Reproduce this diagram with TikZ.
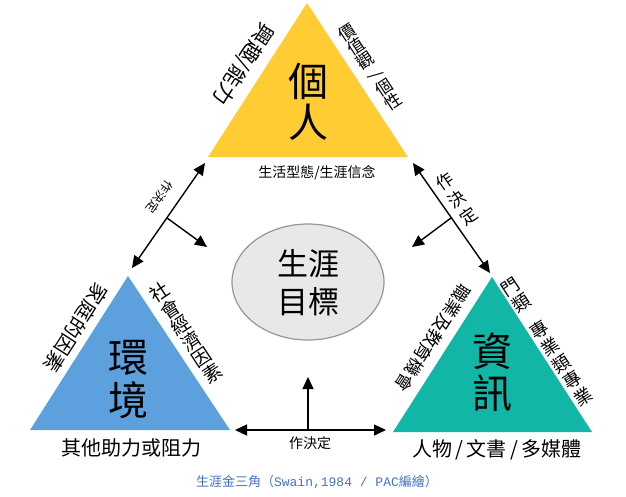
\documentclass[tikz,border=0pt]{standalone}
\usepackage{fontspec}
\usepackage{graphicx}
\setmainfont{Noto Sans CJK TC}
\newfontfamily\monofnt{Liberation Mono}
\usetikzlibrary{arrows.meta,shapes.geometric}
\definecolor{triyellow}{RGB}{255,204,51}
\definecolor{triblue}{RGB}{93,160,222}
\definecolor{triteal}{RGB}{17,182,166}
\definecolor{capblue}{RGB}{68,114,196}
\definecolor{ellfill}{RGB}{232,232,232}
\definecolor{ellline}{RGB}{150,150,150}
\newcommand{\fsz}[2]{\fontsize{#1}{#2}\selectfont\lineskiplimit=-100pt\lineskip=0pt}
\tikzset{
  lbl/.style={inner sep=0pt, outer sep=0pt, align=center, text=black},
  bigch/.style={lbl, font=\fsz{40}{42}},
  conn/.style={line width=1.4pt, draw=black},
  tipA/.style={-{Triangle[length=12pt,width=11pt]}},
  tipB/.style={{Triangle[length=12pt,width=11pt]}-{Triangle[length=12pt,width=11pt]}}
}
\begin{document}
\begin{tikzpicture}[x=1pt,y=-1pt]
\useasboundingbox (0,0) rectangle (626,496);
% triangles
\coordinate (tA) at (307,3);   \coordinate (tB) at (208,157); \coordinate (tC) at (408,157);
\coordinate (bA) at (128,276); \coordinate (bB) at (30,430);  \coordinate (bC) at (230,430);
\coordinate (gA) at (492,277); \coordinate (gB) at (393,432); \coordinate (gC) at (592,432);
\fill[triyellow] (tA) -- (tB) -- (tC) -- cycle;
\fill[triblue] (bA) -- (bB) -- (bC) -- cycle;
\fill[triteal] (gA) -- (gB) -- (gC) -- cycle;
% big characters
\node[bigch] (ge) at (308,81) {個};
\node[bigch] (ren) at (308,122) {人};
\node[bigch] (huan) at (128,358) {環};
\node[bigch] (jing) at (128,400) {境};
\node[bigch] (zi) at (492,351) {資};
\node[bigch] (xun) at (492,393) {訊};
% ellipse
\node[ellipse, fill=ellfill, draw=ellline, line width=1.2pt, minimum width=152pt, minimum height=116pt, inner sep=0pt] (goal) at (308,282) {};
\node[lbl, font=\fsz{31}{38}] (goaltxt) at (308,283) {生涯\\目標};
% bottom texts
\node[lbl, font=\fsz{14}{16}] (life) at (317,173) {生活型態/生涯信念};
\node[lbl, font=\fsz{20}{22}] (other) at (131,448) {其他助力或阻力};
\node[lbl, font=\fsz{20}{22}] (media) at (497,450) {人物\,/\,文書\,/\,多媒體};
% edge texts: left edges (horizontal, rotated)
\node[lbl, font=\fsz{21}{22}, rotate=237.3] (interest) at (243,64) {興趣/能力};
\node[lbl, font=\fsz{20}{22}, rotate=237.3] (family) at (76,328) {家庭的因素};
\node[lbl, font=\fsz{17.5}{19}, rotate=237.3] (jobs) at (433,338) {職業及教育機會};
% edge texts: right edges (vertical, rotated)
\node[lbl, font=\fsz{17}{16.6}, rotate=33.3] (values) at (370,67) {價\\值\\觀\\\rotatebox[origin=c]{-90}{/}\\個\\性};
\node[lbl, font=\fsz{19}{19.3}, rotate=33.3] (social) at (186,333) {社\\會\\經\\濟\\因\\素};
\node[lbl, font=\fsz{18}{20}, rotate=33.3] (cats) at (547,342) {門\\類\\[12pt]專\\業\\類\\專\\業};
% arrows
\coordinate (l1) at (205,163); \coordinate (l2) at (132,268);
\coordinate (l3) at (167,218); \coordinate (l4) at (207,247);
\coordinate (r1) at (413,163); \coordinate (r2) at (490,273);
\coordinate (r3) at (451,218); \coordinate (r4) at (412,247);
\coordinate (d1) at (235,430); \coordinate (d2) at (386,430);
\coordinate (d3) at (308,430); \coordinate (d4) at (308,377);
\draw[conn, tipB] (l1) -- (l2);
\draw[conn, tipA] (l3) -- (l4);
\draw[conn, tipB] (r1) -- (r2);
\draw[conn, tipA] (r3) -- (r4);
\draw[conn, tipB] (d1) -- (d2);
\draw[conn, tipA] (d3) -- (d4);
% arrow labels
\node[lbl, font=\fsz{12}{14}, rotate=235] (decL) at (160,197) {作決定};
\node[lbl, font=\fsz{17}{21}, rotate=35] (decR) at (457,199) {作\\決\\定};
\node[lbl, font=\fsz{14}{16}] (decB) at (310,443) {作決定};
% caption
\node[lbl, text=capblue, font=\fsz{13}{15}] (cap) at (317,482) {生涯金三角（{\monofnt Swain,1984 / PAC}編繪）};
\end{tikzpicture}
\end{document}
